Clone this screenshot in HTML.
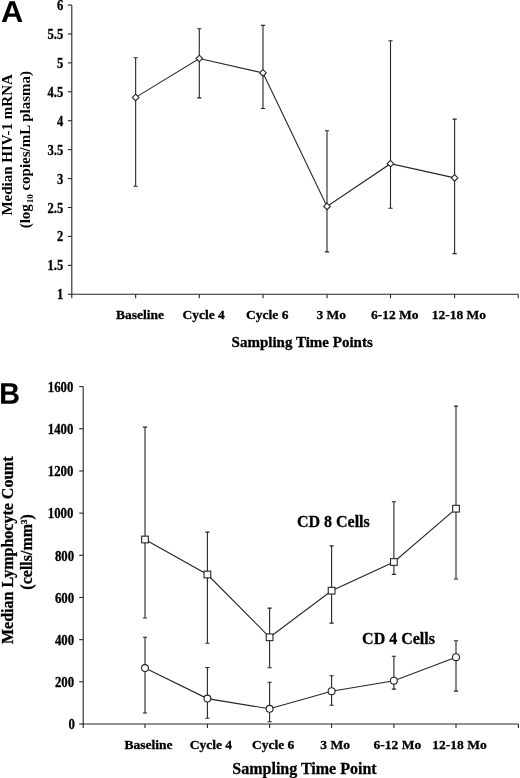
<!DOCTYPE html>
<html><head><meta charset="utf-8"><style>
html,body{margin:0;padding:0;background:#fff;}
body{width:520px;height:778px;overflow:hidden;position:relative;}
svg{position:absolute;left:0;top:0;filter:grayscale(1);}
</style></head><body>
<svg width="520" height="778" viewBox="0 0 520 778">
<g stroke="#262626" stroke-width="1.1" fill="none">
<path d="M71.8 5V294.3H518.2" />
<path d="M67.8 5H71.8" />
<path d="M67.8 33.93H71.8" />
<path d="M67.8 62.86H71.8" />
<path d="M67.8 91.79H71.8" />
<path d="M67.8 120.72H71.8" />
<path d="M67.8 149.65H71.8" />
<path d="M67.8 178.58H71.8" />
<path d="M67.8 207.51H71.8" />
<path d="M67.8 236.44H71.8" />
<path d="M67.8 265.37H71.8" />
<path d="M67.8 294.3H71.8" />
<path d="M71.8 294.3V298.3" />
<path d="M135.65 294.3V298.3" />
<path d="M199.3 294.3V298.3" />
<path d="M263 294.3V298.3" />
<path d="M327 294.3V298.3" />
<path d="M390.5 294.3V298.3" />
<path d="M454.6 294.3V298.3" />
<path d="M518.2 294.3V298.3" />
<path d="M135.65 57.7V186.3M133.55 57.7H137.75M133.55 186.3H137.75" />
<path d="M199.3 28.7V97.9M197.2 28.7H201.4M197.2 97.9H201.4" />
<path d="M263 25.4V108.5M260.9 25.4H265.1M260.9 108.5H265.1" />
<path d="M327 130.8V251.9M324.9 130.8H329.1M324.9 251.9H329.1" />
<path d="M390.5 40.8V208.2M388.4 40.8H392.6M388.4 208.2H392.6" />
<path d="M454.6 119.1V253.6M452.5 119.1H456.7M452.5 253.6H456.7" />
<polyline points="135.65,97.4 199.3,58.5 263,72.9 327,206.4 390.5,163.7 454.6,177.9" fill="none" />
<path d="M135.65 94.1L138.95 97.4L135.65 100.7L132.35 97.4Z" fill="#fff" />
<path d="M199.3 55.2L202.6 58.5L199.3 61.8L196 58.5Z" fill="#fff" />
<path d="M263 69.6L266.3 72.9L263 76.2L259.7 72.9Z" fill="#fff" />
<path d="M327 203.1L330.3 206.4L327 209.7L323.7 206.4Z" fill="#fff" />
<path d="M390.5 160.4L393.8 163.7L390.5 167L387.2 163.7Z" fill="#fff" />
<path d="M454.6 174.6L457.9 177.9L454.6 181.2L451.3 177.9Z" fill="#fff" />
<path d="M83.2 386.6V724H518.4" />
<path d="M79.2 724H83.2" />
<path d="M79.2 681.83H83.2" />
<path d="M79.2 639.65H83.2" />
<path d="M79.2 597.48H83.2" />
<path d="M79.2 555.3H83.2" />
<path d="M79.2 513.12H83.2" />
<path d="M79.2 470.95H83.2" />
<path d="M79.2 428.78H83.2" />
<path d="M79.2 386.6H83.2" />
<path d="M83.2 724V728" />
<path d="M145 724V728" />
<path d="M207.4 724V728" />
<path d="M269.6 724V728" />
<path d="M331.6 724V728" />
<path d="M393.9 724V728" />
<path d="M456 724V728" />
<path d="M518.4 724V728" />
<path d="M145 427.1V618M142.9 427.1H147.1M142.9 618H147.1" />
<path d="M207.4 532.1V643.3M205.3 532.1H209.5M205.3 643.3H209.5" />
<path d="M269.6 608.1V667.7M267.5 608.1H271.7M267.5 667.7H271.7" />
<path d="M331.6 545.9V623.1M329.5 545.9H333.7M329.5 623.1H333.7" />
<path d="M393.9 501.8V574.4M391.8 501.8H396M391.8 574.4H396" />
<path d="M456 406.1V579M453.9 406.1H458.1M453.9 579H458.1" />
<polyline points="145,539.5 207.4,574.5 269.6,637.3 331.6,590.7 393.9,562 456,508.7" fill="none" />
<path d="M145 637.3V713M142.9 637.3H147.1M142.9 713H147.1" />
<path d="M207.4 667.5V718.3M205.3 667.5H209.5M205.3 718.3H209.5" />
<path d="M269.6 682.2V721.7M267.5 682.2H271.7M267.5 721.7H271.7" />
<path d="M331.6 675.8V705.3M329.5 675.8H333.7M329.5 705.3H333.7" />
<path d="M393.9 656.2V689.1M391.8 656.2H396M391.8 689.1H396" />
<path d="M456 640.8V691.1M453.9 640.8H458.1M453.9 691.1H458.1" />
<polyline points="145,668.1 207.4,698.6 269.6,708.8 331.6,691.2 393.9,680.7 456,657.2" fill="none" />
<rect x="141.65" y="536.15" width="6.7" height="6.7" fill="#fff" />
<rect x="204.05" y="571.15" width="6.7" height="6.7" fill="#fff" />
<rect x="266.25" y="633.95" width="6.7" height="6.7" fill="#fff" />
<rect x="328.25" y="587.35" width="6.7" height="6.7" fill="#fff" />
<rect x="390.55" y="558.65" width="6.7" height="6.7" fill="#fff" />
<rect x="452.65" y="505.35" width="6.7" height="6.7" fill="#fff" />
<circle cx="145" cy="668.1" r="3.45" fill="#fff" />
<circle cx="207.4" cy="698.6" r="3.45" fill="#fff" />
<circle cx="269.6" cy="708.8" r="3.45" fill="#fff" />
<circle cx="331.6" cy="691.2" r="3.45" fill="#fff" />
<circle cx="393.9" cy="680.7" r="3.45" fill="#fff" />
<circle cx="456" cy="657.2" r="3.45" fill="#fff" />
</g>
<g font-family="Liberation Serif, serif" font-weight="bold" fill="#000" stroke="#000" stroke-width="0.3">
<text transform="translate(63.2 10) scale(0.93 1.08)" font-size="13.5" text-anchor="end">6</text>
<text transform="translate(63.2 38.93) scale(0.93 1.08)" font-size="13.5" text-anchor="end">5.5</text>
<text transform="translate(63.2 67.86) scale(0.93 1.08)" font-size="13.5" text-anchor="end">5</text>
<text transform="translate(63.2 96.79) scale(0.93 1.08)" font-size="13.5" text-anchor="end">4.5</text>
<text transform="translate(63.2 125.72) scale(0.93 1.08)" font-size="13.5" text-anchor="end">4</text>
<text transform="translate(63.2 154.65) scale(0.93 1.08)" font-size="13.5" text-anchor="end">3.5</text>
<text transform="translate(63.2 183.58) scale(0.93 1.08)" font-size="13.5" text-anchor="end">3</text>
<text transform="translate(63.2 212.51) scale(0.93 1.08)" font-size="13.5" text-anchor="end">2.5</text>
<text transform="translate(63.2 241.44) scale(0.93 1.08)" font-size="13.5" text-anchor="end">2</text>
<text transform="translate(63.2 270.37) scale(0.93 1.08)" font-size="13.5" text-anchor="end">1.5</text>
<text transform="translate(63.2 299.3) scale(0.93 1.08)" font-size="13.5" text-anchor="end">1</text>
<text x="139.95" y="318.9" font-size="13.5" text-anchor="middle" >Baseline</text>
<text x="203.6" y="318.9" font-size="13.5" text-anchor="middle" >Cycle 4</text>
<text x="267.3" y="318.9" font-size="13.5" text-anchor="middle" >Cycle 6</text>
<text x="331.3" y="318.9" font-size="13.5" text-anchor="middle" >3 Mo</text>
<text x="394.8" y="318.9" font-size="13.5" text-anchor="middle" >6-12 Mo</text>
<text x="458.9" y="318.9" font-size="13.5" text-anchor="middle" >12-18 Mo</text>
<text x="302.2" y="346.5" font-size="15" text-anchor="middle" >Sampling Time Points</text>
<text transform="translate(11.6 144.9) rotate(-90)" stroke-width="0" font-size="15" text-anchor="middle">Median HIV-1 mRNA</text>
<text transform="translate(30.0 149.7) rotate(-90)" stroke-width="0" font-size="15" text-anchor="middle">(log<tspan font-size="9" dy="3.2" dx="0.8">10</tspan><tspan dy="-3.2"> copies/mL plasma)</tspan></text>
<text transform="translate(75.0 729.3) scale(0.95 1.05)" font-size="13.5" text-anchor="end">0</text>
<text transform="translate(74.1 687.12) scale(0.95 1.05)" font-size="13.5" text-anchor="end">200</text>
<text transform="translate(74.1 644.95) scale(0.95 1.05)" font-size="13.5" text-anchor="end">400</text>
<text transform="translate(74.1 602.77) scale(0.95 1.05)" font-size="13.5" text-anchor="end">600</text>
<text transform="translate(74.1 560.6) scale(0.95 1.05)" font-size="13.5" text-anchor="end">800</text>
<text transform="translate(73.4 518.42) scale(0.95 1.05)" font-size="13.5" text-anchor="end">1000</text>
<text transform="translate(73.4 476.25) scale(0.95 1.05)" font-size="13.5" text-anchor="end">1200</text>
<text transform="translate(73.4 434.08) scale(0.95 1.05)" font-size="13.5" text-anchor="end">1400</text>
<text transform="translate(73.4 391.9) scale(0.95 1.05)" font-size="13.5" text-anchor="end">1600</text>
<text x="148.5" y="748.5" font-size="13.5" text-anchor="middle" >Baseline</text>
<text x="210.9" y="748.5" font-size="13.5" text-anchor="middle" >Cycle 4</text>
<text x="273.1" y="748.5" font-size="13.5" text-anchor="middle" >Cycle 6</text>
<text x="335.1" y="748.5" font-size="13.5" text-anchor="middle" >3 Mo</text>
<text x="397.4" y="748.5" font-size="13.5" text-anchor="middle" >6-12 Mo</text>
<text x="459.5" y="748.5" font-size="13.5" text-anchor="middle" >12-18 Mo</text>
<text x="304.5" y="773.5" font-size="16" text-anchor="middle" >Sampling Time Point</text>
<text transform="translate(12.7 550.25) rotate(-90)" font-size="16" text-anchor="middle">Median Lymphocyte Count</text>
<text transform="translate(32.3 551.85) rotate(-90)" font-size="16" text-anchor="middle">(cells/mm<tspan font-size="9" dy="-5">3</tspan><tspan dy="5">)</tspan></text>
<text x="296.9" y="526.6" font-size="16" text-anchor="start" >CD 8 Cells</text>
<text x="362.1" y="644.2" font-size="16" text-anchor="start" >CD 4 Cells</text>
</g>
<path transform="translate(1.035 22.1) scale(0.015 -0.0148)" d="M1133 0 1008 360H471L346 0H51L565 1409H913L1425 0ZM739 1192 733 1170Q723 1134 709.0 1088.0Q695 1042 537 582H942L803 987L760 1123Z" fill="#000"/>
<path transform="translate(-0.832 403.8) scale(0.0141 -0.01455)" d="M1386 402Q1386 210 1242.0 105.0Q1098 0 842 0H137V1409H782Q1040 1409 1172.5 1319.5Q1305 1230 1305 1055Q1305 935 1238.5 852.5Q1172 770 1036 741Q1207 721 1296.5 633.5Q1386 546 1386 402ZM1008 1015Q1008 1110 947.5 1150.0Q887 1190 768 1190H432V841H770Q895 841 951.5 884.5Q1008 928 1008 1015ZM1090 425Q1090 623 806 623H432V219H817Q959 219 1024.5 270.5Q1090 322 1090 425Z" fill="#000"/>
</svg>
</body></html>
